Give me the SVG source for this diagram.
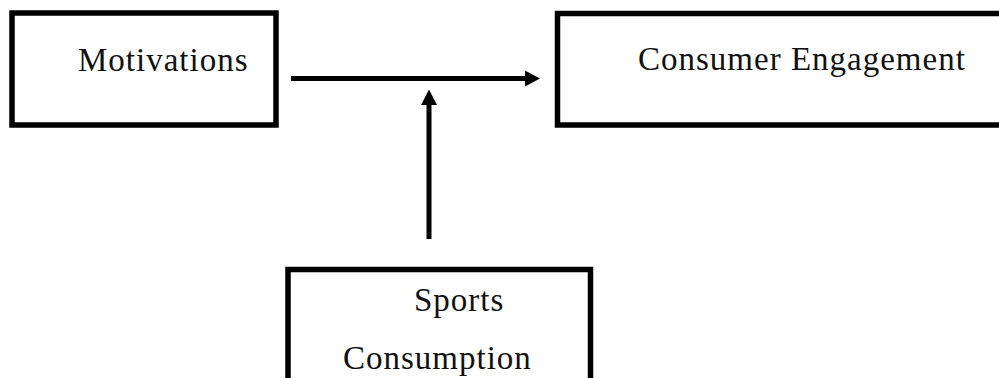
<svg xmlns="http://www.w3.org/2000/svg" width="999" height="378" viewBox="0 0 999 378">
<style>
.box{fill:#fff;stroke:#000;stroke-width:5.5}
.lbl{font-family:"Liberation Serif","Times New Roman",serif;font-size:33px;letter-spacing:1px;fill:#111}
.conn{stroke:#000;stroke-width:5;fill:none}
.head{fill:#000}
</style>
<rect width="999" height="378" fill="#fff"/>
<g id="motivations">
<rect class="box" x="12" y="13" width="264" height="112"/>
<text class="lbl" x="78" y="71">Motivations</text>
</g>
<g id="consumer-engagement">
<rect class="box" x="557.5" y="13.5" width="460" height="111.5"/>
<text class="lbl" x="638" y="70">Consumer Engagement</text>
</g>
<g id="sports-consumption">
<rect class="box" x="288" y="269.5" width="302.5" height="130"/>
<text class="lbl" x="414" y="311">Sports</text>
<text class="lbl" x="343" y="369">Consumption</text>
</g>
<g id="connectors">
<line class="conn" x1="291" y1="78.5" x2="527" y2="78.5"/>
<polygon class="head" points="525,70.5 540,78.5 525,86.5"/>
<line class="conn" x1="429" y1="239" x2="429" y2="103"/>
<polygon class="head" points="421,105 429,89.5 437,105"/>
</g>
</svg>
